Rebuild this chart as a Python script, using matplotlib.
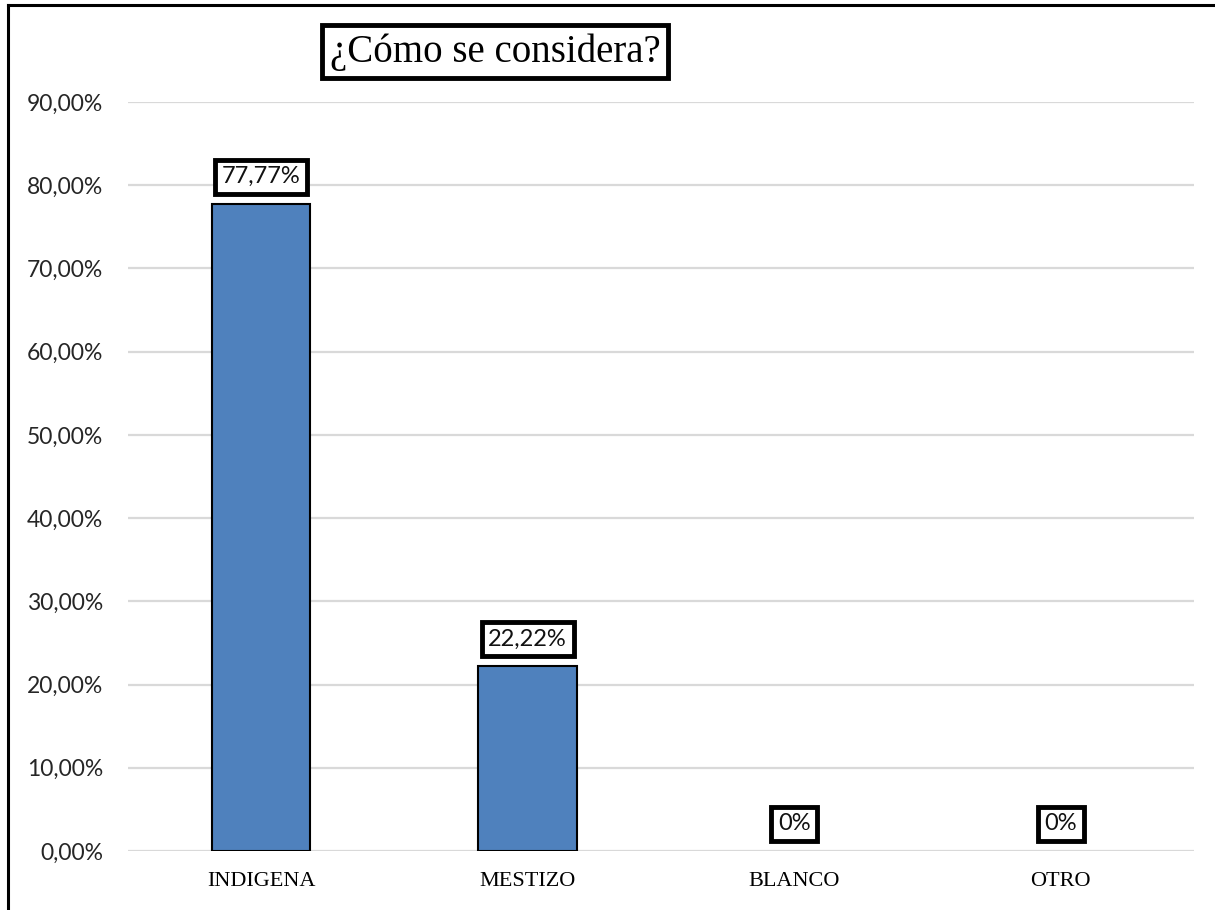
"""Bar chart: ¿Cómo se considera?"""

import matplotlib.pyplot as plt
from matplotlib.lines import Line2D
from matplotlib.ticker import FuncFormatter

categories = ["INDIGENA", "MESTIZO", "BLANCO", "OTRO"]
values = [0.7777, 0.2222, 0.0, 0.0]
value_labels = ["77,77%", "22,22%", "0%", "0%"]
y_ticks = [0.0, 0.1, 0.2, 0.3, 0.4, 0.5, 0.6, 0.7, 0.8, 0.9]

SERIF = ["Liberation Serif", "DejaVu Serif"]
SANS = ["Lato", "DejaVu Sans"]


def pct_fmt(v, _pos):
    return f"{v * 100:.2f}%".replace(".", ",")


def main():
    fig = plt.figure(figsize=(12.15, 9.1), dpi=100)
    ax = fig.add_axes([0.1053, 0.0648, 0.8774, 0.8231])

    x = list(range(len(categories)))
    bars = ax.bar(x, values, width=0.37, color="#4F81BD", edgecolor="black",
                  linewidth=1.5, zorder=3)
    # empty categories show no outline
    for b, v in zip(bars, values):
        if v == 0:
            b.set_linewidth(0)

    ax.set_xlim(-0.5, len(categories) - 0.5)
    ax.set_ylim(0, 0.9)
    ax.set_yticks(y_ticks)
    ax.yaxis.set_major_formatter(FuncFormatter(pct_fmt))
    ax.grid(axis="y", color="#D9D9D9", linewidth=1.6, zorder=0)
    ax.set_axisbelow(True)
    for s in ax.spines.values():
        s.set_visible(False)
    ax.tick_params(axis="both", length=0)
    ax.tick_params(axis="y", pad=18, labelsize=16.5, labelcolor="#262626")
    ax.tick_params(axis="x", pad=15, labelsize=16)
    for lab in ax.get_yticklabels():
        lab.set_fontfamily(SANS)
    ax.set_xticks(x)
    ax.set_xticklabels(categories, fontfamily=SERIF)

    for xi, v, lab in zip(x, values, value_labels):
        ax.annotate(lab, (xi, v), xytext=(0, 19.5), textcoords="offset points",
                    ha="center", va="center", fontsize=17, family=SANS,
                    color="#111111", zorder=5,
                    bbox=dict(boxstyle="square,pad=0.28", facecolor="white",
                              edgecolor="black", linewidth=3.5))

    fig.text(0.4074, 0.943, "¿Cómo se considera?", ha="center", va="center",
             fontsize=28, family=SERIF,
             bbox=dict(boxstyle="square,pad=0.2", facecolor="white",
                       edgecolor="black", linewidth=3.5))

    # outer frame (left and top edges only, as in the source screenshot)
    fig.add_artist(Line2D([0.0066, 0.0066], [0.0, 0.9945], color="black",
                          linewidth=2.2, transform=fig.transFigure))
    fig.add_artist(Line2D([0.0066, 1.0], [0.9945, 0.9945], color="black",
                          linewidth=2.2, transform=fig.transFigure))

    fig.savefig("out.png", dpi=100)
    plt.close(fig)


if __name__ == "__main__":
    main()
